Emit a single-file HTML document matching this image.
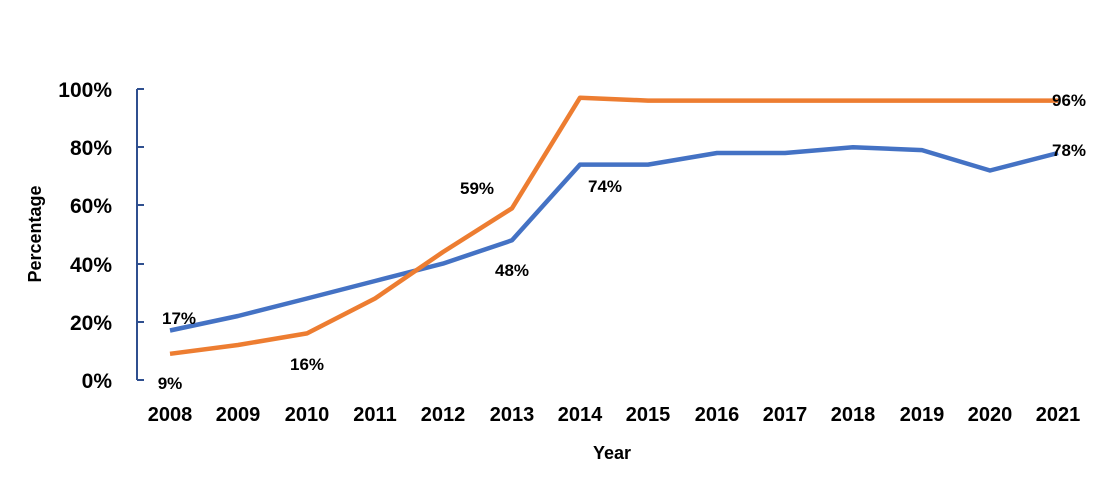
<!DOCTYPE html>
<html><head><style>body{margin:0;background:#fff}svg text{font-family:"Liberation Sans",sans-serif;font-weight:bold;fill:#000}</style></head>
<body>
<svg width="1100" height="487" xmlns="http://www.w3.org/2000/svg">
<g stroke="#2f4f8f" stroke-width="2">
<line x1="137" y1="89" x2="137" y2="380"/>
<line x1="137" y1="89" x2="144" y2="89"/><line x1="137" y1="147" x2="144" y2="147"/><line x1="137" y1="205" x2="144" y2="205"/><line x1="137" y1="264" x2="144" y2="264"/><line x1="137" y1="322" x2="144" y2="322"/><line x1="137" y1="380" x2="144" y2="380"/>
</g>
<g font-size="21" text-anchor="end">
<text x="112" y="97">100%</text><text x="112" y="155">80%</text><text x="112" y="213">60%</text><text x="112" y="272">40%</text><text x="112" y="330">20%</text><text x="112" y="388">0%</text>
</g>
<g font-size="20" text-anchor="middle">
<text x="170" y="421">2008</text><text x="238" y="421">2009</text><text x="307" y="421">2010</text><text x="375" y="421">2011</text><text x="443" y="421">2012</text><text x="512" y="421">2013</text><text x="580" y="421">2014</text><text x="648" y="421">2015</text><text x="717" y="421">2016</text><text x="785" y="421">2017</text><text x="853" y="421">2018</text><text x="922" y="421">2019</text><text x="990" y="421">2020</text><text x="1058" y="421">2021</text>
</g>
<text x="612" y="459" font-size="18" text-anchor="middle">Year</text>
<text transform="translate(41,234) rotate(-90)" font-size="18" text-anchor="middle">Percentage</text>
<polyline fill="none" stroke="#4472c4" stroke-width="4.5" stroke-linejoin="round" points="170,330.5 238,316 307,298.5 375,281 443,263.6 512,240.3 580,164.6 648,164.6 717,153 785,153 853,147.2 922,150.1 990,170.5 1058,153"/>
<polyline fill="none" stroke="#ed7d31" stroke-width="4.5" stroke-linejoin="round" points="170,353.8 238,345 307,333.4 375,298.5 443,252 512,208.3 580,97.7 648,100.6 717,100.6 785,100.6 853,100.6 922,100.6 990,100.6 1058,100.6"/>
<g font-size="17" text-anchor="middle">
<text x="179" y="324">17%</text><text x="170" y="389">9%</text><text x="307" y="370">16%</text>
<text x="477" y="194">59%</text><text x="512" y="276">48%</text><text x="605" y="192">74%</text>
<text x="1069" y="106">96%</text><text x="1069" y="156">78%</text>
</g>
</svg>
</body></html>
